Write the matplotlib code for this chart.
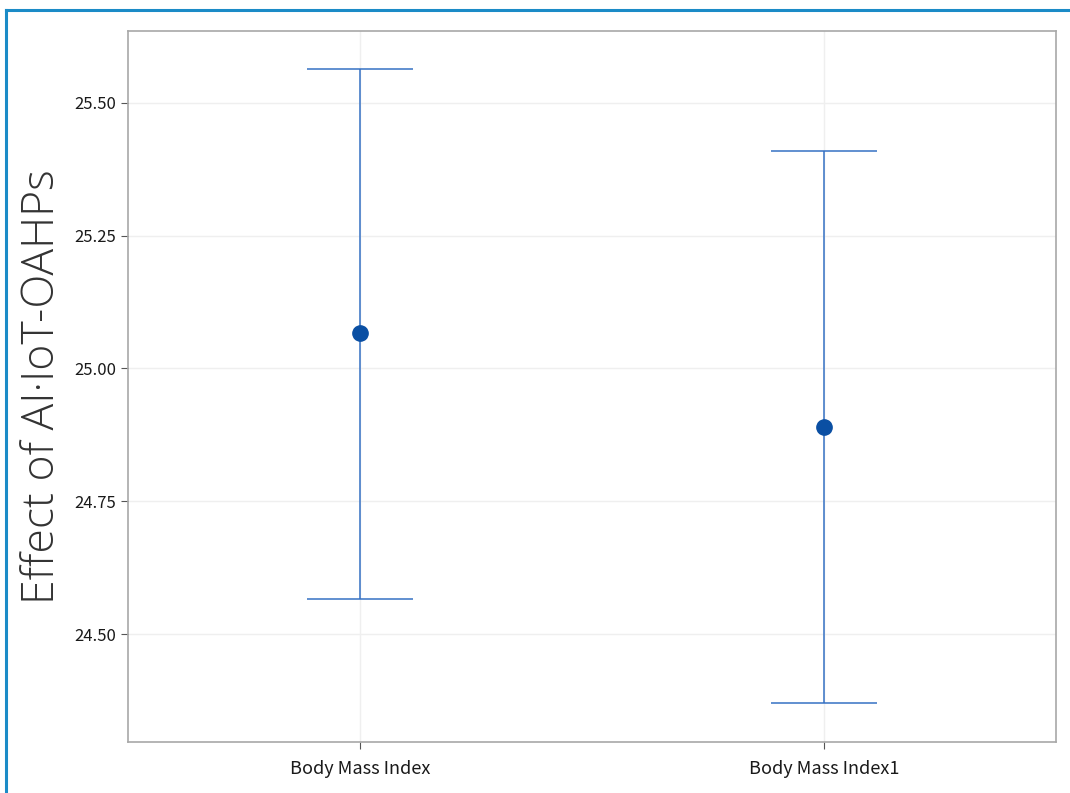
import matplotlib

matplotlib.use("Agg")

import matplotlib.pyplot as plt  # noqa: E402
from matplotlib.lines import Line2D  # noqa: E402

# Data
categories = ["Body Mass Index", "Body Mass Index1"]
means = [25.066, 24.889]
upper = [25.564, 25.410]
lower = [24.566, 24.370]
yticks = [24.50, 24.75, 25.00, 25.25, 25.50]

_LINE = "#3571c4"
_DOT = "#0a4fa3"
_SPINE = "#a8a8a8"
_GRID = "#efefef"
_FRAME = "#1b8bc7"

plt.rcParams["font.family"] = ["Noto Sans CJK KR", "DejaVu Sans"]

fig = plt.figure(figsize=(10.7, 7.93), dpi=100, facecolor="white")
ax = fig.add_axes([128 / 1070, 1 - 742 / 793, 928 / 1070, 711 / 793])

x = list(range(len(categories)))
err_lo = [m - lo for m, lo in zip(means, lower)]
err_hi = [hi - m for m, hi in zip(means, upper)]
ax.errorbar(
    x, means, yerr=[err_lo, err_hi],
    fmt="none", ecolor=_LINE, elinewidth=1.1,
    capsize=38, capthick=1.1, zorder=2,
)
ax.plot(x, means, "o", color=_DOT, markersize=11, zorder=3)

ax.set_xlim(-0.5, 1.5)
ax.set_ylim(24.297, 25.635)
ax.set_xticks(x)
ax.set_xticklabels(categories, fontsize=13)
ax.set_yticks(yticks)
ax.set_yticklabels([f"{v:.2f}" for v in yticks], fontsize=12)

ax.grid(True, color=_GRID, linewidth=1)
ax.set_axisbelow(True)
for s in ax.spines.values():
    s.set_color(_SPINE)
    s.set_linewidth(1.2)
ax.tick_params(colors="#555555", labelcolor="#1a1a1a",
               length=5, width=0.8)
ax.tick_params(axis="x", pad=8)

ax.set_ylabel("Effect of AI\u00b7IoT-OAHPs", fontsize=32, color="#333333",
              family=["Open Sans", "DejaVu Sans"], fontweight="light")
ax.yaxis.set_label_coords(-0.068, 0.5)

# blue frame around the picture (top and left)
fig.add_artist(Line2D([6 / 1070, 1068 / 1070], [1 - 10 / 793, 1 - 10 / 793],
                      color=_FRAME, linewidth=2.2, transform=fig.transFigure))
fig.add_artist(Line2D([6 / 1070, 6 / 1070], [1 - 10 / 793, 0],
                      color=_FRAME, linewidth=2.2, transform=fig.transFigure))

fig.savefig("out.png", dpi=100, facecolor="white")
plt.close(fig)
